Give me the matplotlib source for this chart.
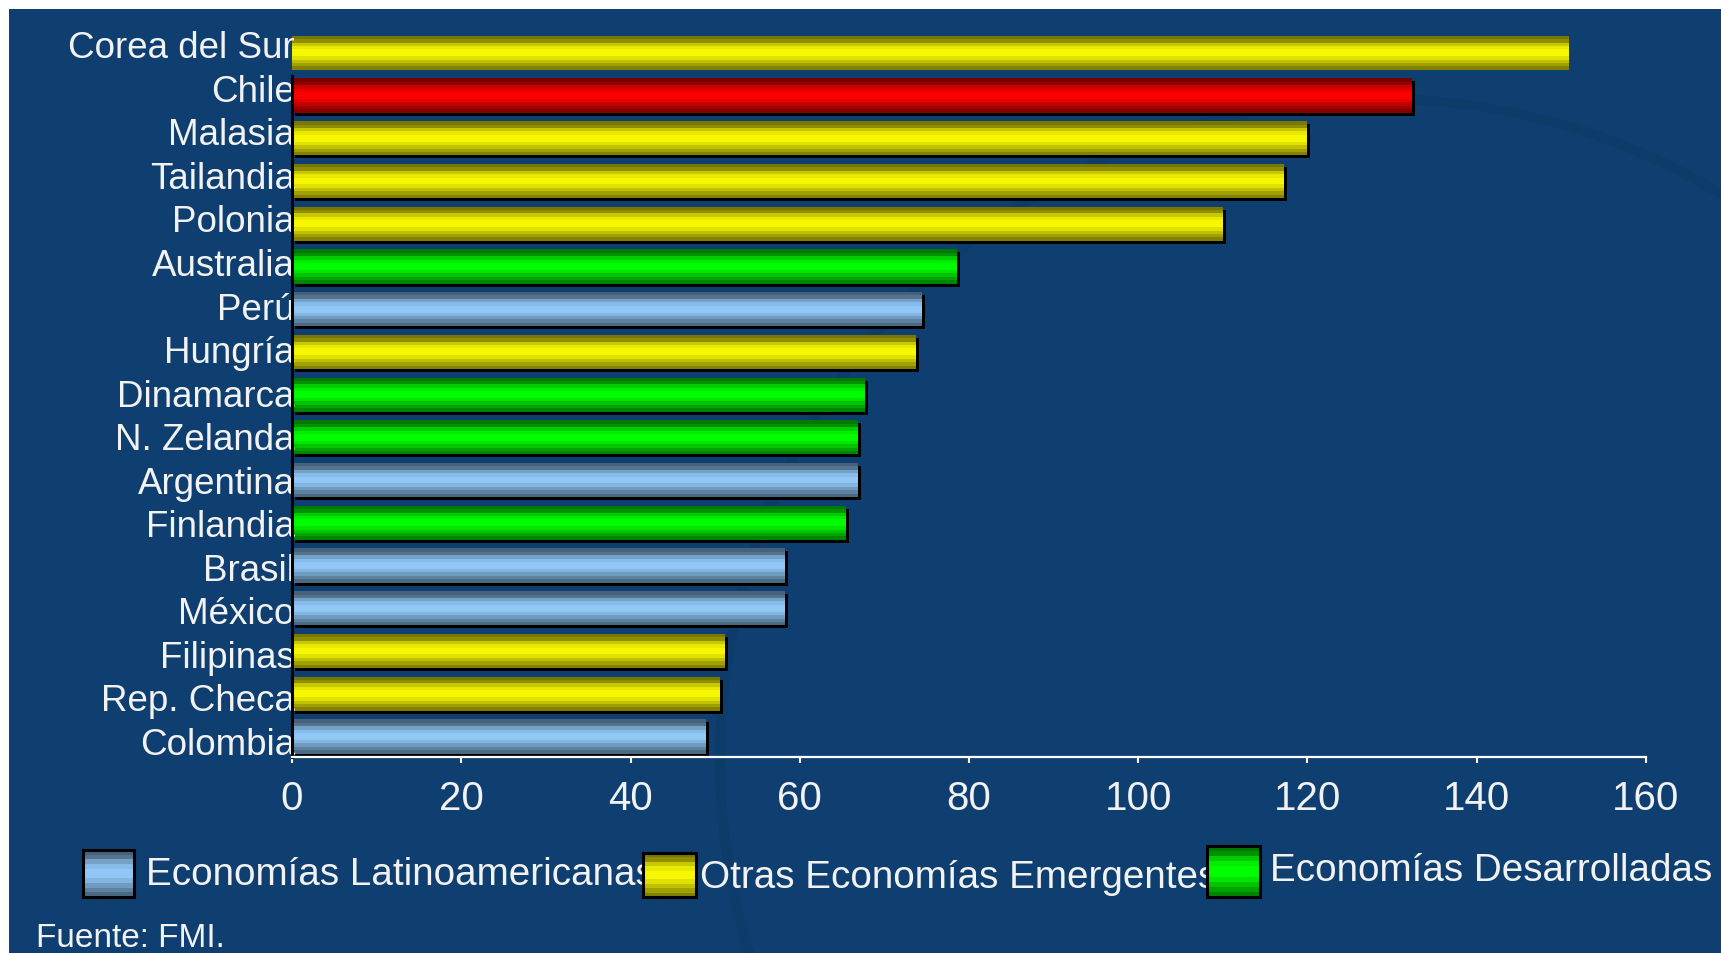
import numpy as np
import matplotlib
matplotlib.use("Agg")
import matplotlib.pyplot as plt
from matplotlib.patches import Rectangle, Circle

plt.rcParams['font.family'] = ['Liberation Sans', 'DejaVu Sans']

# Datos (de abajo hacia arriba en el gráfico)
paises = ['Colombia', 'Rep. Checa', 'Filipinas', 'México', 'Brasil', 'Finlandia',
          'Argentina', 'N. Zelanda', 'Dinamarca', 'Hungría', 'Perú', 'Australia',
          'Polonia', 'Tailandia', 'Malasia', 'Chile', 'Corea del Sur']
valores = [48.9, 50.6, 51.2, 58.2, 58.2, 65.5,
           66.9, 66.9, 67.7, 73.7, 74.4, 78.6,
           110.0, 117.2, 119.9, 132.3, 150.9]
grupo = ['lat', 'emg', 'emg', 'lat', 'lat', 'des',
         'lat', 'des', 'des', 'emg', 'lat', 'des',
         'emg', 'emg', 'emg', 'chile', 'emg']
x_ticks = [0, 20, 40, 60, 80, 100, 120, 140, 160]

leyenda = ['Economías Latinoamericanas', 'Otras Economías Emergentes', 'Economías Desarrolladas']

base = {'lat': np.array([0.57, 0.79, 0.98]),
        'emg': np.array([0.98, 0.98, 0.0]),
        'des': np.array([0.0, 1.0, 0.0]),
        'chile': np.array([1.0, 0.0, 0.0])}
# perfil de brillo de las franjas (de arriba hacia abajo)
perfil = [0.48, 0.57, 0.80, 0.93, 0.99, 0.99, 0.90, 0.77, 0.64, 0.52]

fondo = '#0e3f70'
sello = '#0d3c6b'
blanco = '#f2f2f2'

fig = plt.figure(figsize=(17.21, 9.54), dpi=100, facecolor='white')
fig.patches.append(Rectangle((9 / 1721, 0), 1, 944 / 954, transform=fig.transFigure,
                             facecolor=fondo, edgecolor='none', zorder=-10))
# sello de fondo (muy tenue)
fig.patches.append(Circle((1380, 954 - 760), 660, transform=None, facecolor='none',
                          edgecolor=sello, linewidth=7, zorder=-9))

ax = fig.add_axes([0.1697, 0.2055, 0.7867, 0.7605])
ax.set_facecolor('none')

y = np.arange(len(paises))
h = 0.80
n = len(perfil)
dx, dy = 0.35, 0.07

# sombra negra (la barra superior no la tiene)
ax.barh(y[:-1] - dy, valores[:-1], height=h, left=dx, color='black', linewidth=0, zorder=0.5)
# barras con franjas de degradado
for k, f in enumerate(perfil):
    off = h / 2 - (k + 0.5) * h / n
    cols = [np.clip(base[g] * f, 0, 1) for g in grupo]
    ax.barh(y + off, valores, height=h / n, color=cols, linewidth=0, zorder=1)

ax.set_xlim(0, 160)
ax.set_ylim(-0.48, 16.5)
ax.set_xticks(x_ticks)
ax.set_yticks(y - 0.094 + 0.019 * y)
ax.set_yticklabels(paises)

for s in ['top', 'right']:
    ax.spines[s].set_visible(False)
ax.spines['left'].set_color('black')
ax.spines['left'].set_linewidth(2.2)
ax.spines['left'].set_bounds(-0.48, 15.45)
ax.spines['bottom'].set_color('white')
ax.spines['bottom'].set_linewidth(1.6)

ax.tick_params(axis='x', colors='white', labelcolor=blanco, length=4, width=1.5,
               labelsize=29, pad=12)
ax.tick_params(axis='y', length=0, labelcolor=blanco, labelsize=26.5, pad=-2)

# leyenda manual con cuadros degradados
cajas = [(83, 851, 51, 47), (643, 854, 53, 44), (1207, 847, 53, 51)]
textos = [(146, 875), (700, 878), (1270, 871)]
claves = ['lat', 'emg', 'des']
for (x0, y0, w, hh), (tx, ty), g, lab in zip(cajas, textos, claves, leyenda):
    fig.text(tx / 1721, 1 - ty / 954, lab, color=blanco, fontsize=27.8,
             va='center', ha='left', zorder=5)
    for k, f in enumerate(perfil):
        yy = y0 + k * hh / n
        fig.patches.append(Rectangle((x0 / 1721, 1 - (yy + hh / n) / 954), w / 1721, (hh / n) / 954,
                                     transform=fig.transFigure, facecolor=np.clip(base[g] * f, 0, 1),
                                     edgecolor='none', zorder=6))
    fig.patches.append(Rectangle((x0 / 1721, 1 - (y0 + hh) / 954), w / 1721, hh / 954,
                                 transform=fig.transFigure, facecolor='none',
                                 edgecolor='black', linewidth=2.2, zorder=7))

fig.text(36 / 1721, 1 - 947 / 954, 'Fuente: FMI.', color=blanco, fontsize=24,
         va='baseline', ha='left')

fig.savefig('out.png', dpi=100, facecolor=fig.get_facecolor())
